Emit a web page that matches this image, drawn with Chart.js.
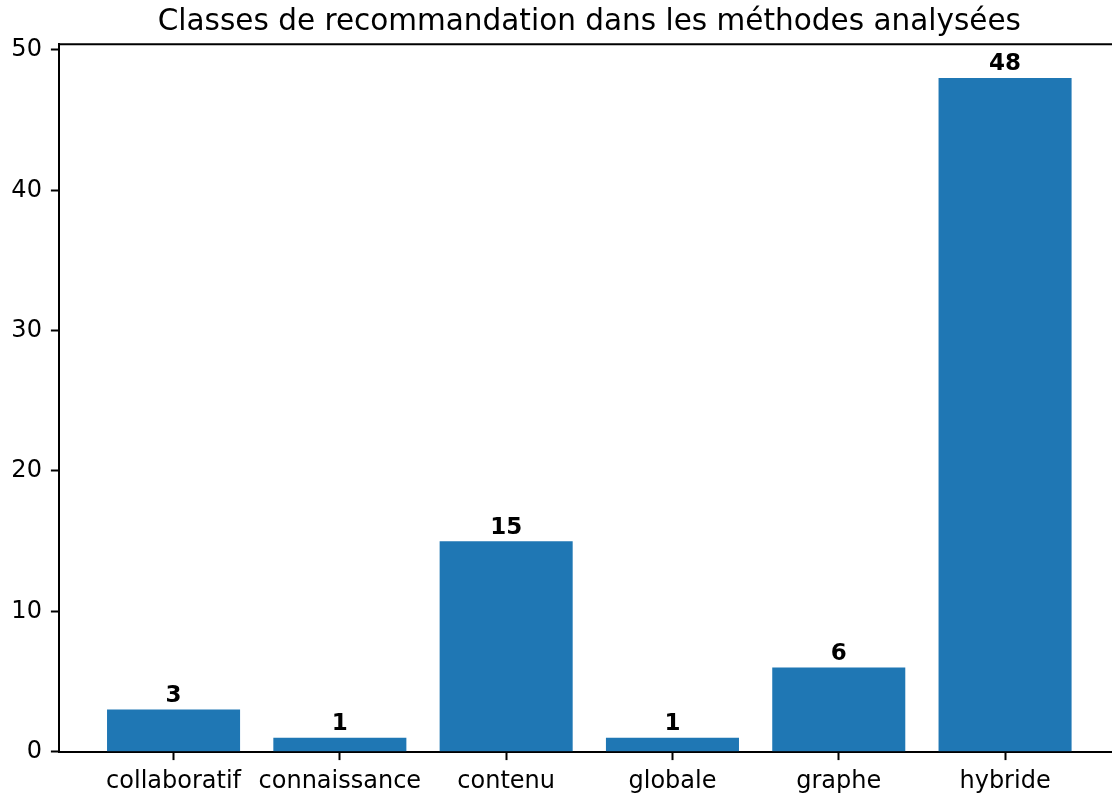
<!DOCTYPE html>
<html><head><meta charset="utf-8">
<script src="https://cdn.jsdelivr.net/npm/chart.js@4"></script>
<style>html,body{margin:0;padding:0;background:#fff;overflow:hidden}canvas{display:block}</style>
</head><body>
<canvas id="c" width="1112" height="795"></canvas>
<script>
const categories = ['collaboratif', 'connaissance', 'contenu', 'globale', 'graphe', 'hybride'];
const counts = [3, 1, 15, 1, 6, 48];
const yTicks = [0, 10, 20, 30, 40, 50];
const titleText = 'Classes de recommandation dans les méthodes analysées';

const FONT = "'DejaVu Sans', sans-serif";
const X_MIN = -0.687, X_MAX = 5.643, X_CENTER = 2.5, Y_MAX = 50.4;

const mplPlugin = {
  id: 'mpl',
  afterDatasetsDraw(chart) {
    const { ctx } = chart;
    const meta = chart.getDatasetMeta(0);
    ctx.save();
    ctx.font = `bold 23px ${FONT}`;
    ctx.fillStyle = '#000';
    ctx.textAlign = 'center';
    ctx.textBaseline = 'alphabetic';
    meta.data.forEach((el, i) => {
      ctx.fillText(String(counts[i]), el.x, el.y - 7.5);
    });
    ctx.restore();
  },
  afterDraw(chart) {
    const { ctx, chartArea: a } = chart;
    ctx.save();
    ctx.strokeStyle = '#000';
    ctx.lineWidth = 2;
    ctx.beginPath();
    ctx.moveTo(a.left - 1, a.top);
    ctx.lineTo(a.right + 2, a.top);
    ctx.stroke();
    ctx.font = `29.5px ${FONT}`;
    ctx.fillStyle = '#000';
    ctx.textAlign = 'center';
    ctx.textBaseline = 'alphabetic';
    ctx.fillText(titleText, chart.scales.x.getPixelForValue(X_CENTER), a.top - 14.4);
    ctx.restore();
  }
};

new Chart(document.getElementById('c'), {
  type: 'bar',
  data: {
    datasets: [{
      data: categories.map((c, i) => ({ x: i, y: counts[i] })),
      backgroundColor: '#1f77b4',
      borderWidth: 0,
      barPercentage: 1,
      categoryPercentage: 0.8
    }]
  },
  options: {
    responsive: false,
    animation: false,
    layout: { padding: { top: 44.3, left: 0, right: 0, bottom: 0 } },
    plugins: { legend: { display: false }, tooltip: { enabled: false }, title: { display: false } },
    scales: {
      x: {
        type: 'linear',
        min: X_MIN, max: X_MAX,
        offset: false,
        afterBuildTicks: s => { s.ticks = categories.map((c, i) => ({ value: i })); },
        afterFit: s => { s.height = 43.3; },
        grid: { display: true, drawOnChartArea: false, drawTicks: true, tickLength: 8.4, tickWidth: 2, tickColor: '#000', offset: false },
        border: { display: true, color: '#000', width: 2 },
        ticks: {
          autoSkip: false, maxRotation: 0, padding: 7,
          color: '#000', font: { family: FONT, size: 24 },
          callback: v => categories[v] ?? ''
        }
      },
      y: {
        min: 0, max: Y_MAX,
        afterBuildTicks: s => { s.ticks = yTicks.map(v => ({ value: v })); },
        afterFit: s => { s.width = 59.3; },
        grid: { display: true, drawOnChartArea: false, drawTicks: true, tickLength: 8.4, tickWidth: 2, tickColor: '#000' },
        border: { display: true, color: '#000', width: 2 },
        ticks: { padding: 9, color: '#000', font: { family: FONT, size: 24 } }
      }
    }
  },
  plugins: [mplPlugin]
});
</script>
</body></html>
